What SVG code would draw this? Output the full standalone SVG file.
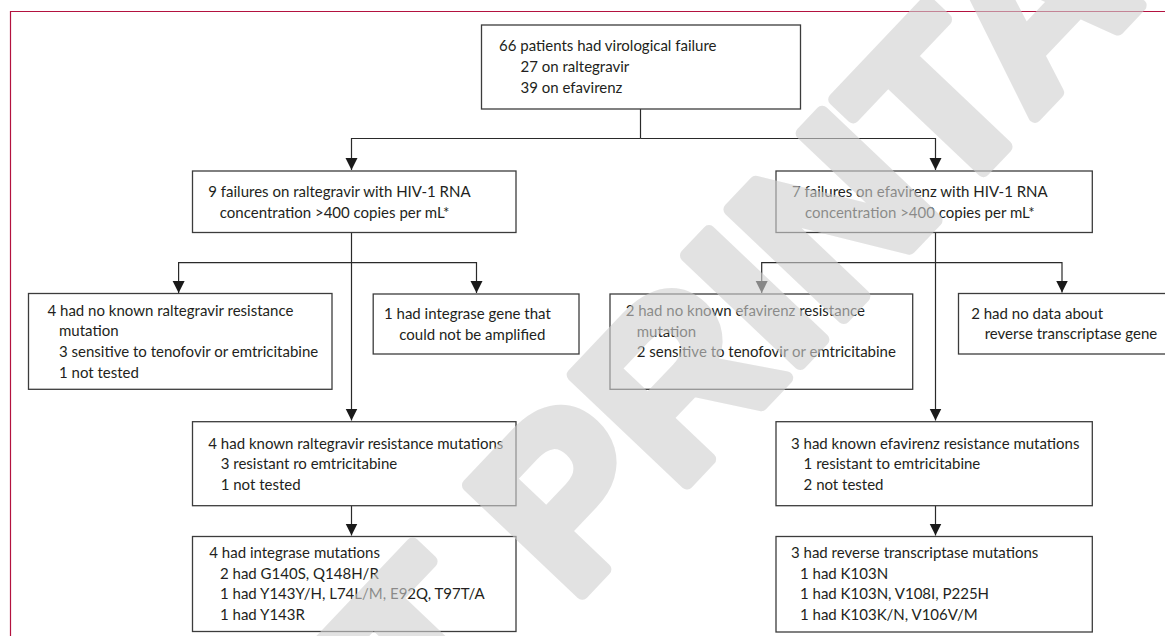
<svg xmlns="http://www.w3.org/2000/svg" width="1165" height="636" viewBox="0 0 1165 636">
<defs>
<style>
.box{fill:#ffffff;stroke:#3c3c3c;stroke-width:1.3}
.t{font-family:Lato,"Liberation Sans",sans-serif;font-size:15px;fill:#231f20}
.c{fill:none;stroke:#2a2a2a;stroke-width:1.2}
.a{marker-end:url(#ah)}
.wm{font-family:"Liberation Sans",Arial,sans-serif;font-weight:bold;font-size:228px;fill:#d0d0d0;stroke:#d0d0d0;stroke-width:13;stroke-linejoin:round}
</style>
<marker id="ah" markerUnits="userSpaceOnUse" markerWidth="13" markerHeight="13" refX="12" refY="6" orient="auto">
<path d="M0,0 L12,6 L0,12 z" fill="#1a1a1a"/>
</marker>
</defs>
<rect width="1165" height="636" fill="#ffffff"/>
<path d="M10.5,636 V11.5 H1165" fill="none" stroke="#b3123f" stroke-width="1.2"/>

<g id="connectors">
<path class="c" d="M640.5,109 V138.5"/>
<path class="c a" d="M640.5,138.5 H351.5 V170"/>
<path class="c a" d="M640.5,138.5 H935.5 V170"/>
<path class="c a" d="M351.5,232.5 V420.5"/>
<path class="c a" d="M351.5,262.7 H178.6 V293"/>
<path class="c a" d="M351.5,262.7 H476.5 V293"/>
<path class="c a" d="M935.5,232.5 V420.5"/>
<path class="c a" d="M935.5,262.7 H761.7 V293"/>
<path class="c a" d="M935.5,262.7 H1062 V292.5"/>
<path class="c a" d="M351.5,505.7 V535.5"/>
<path class="c a" d="M935.5,505.7 V535.5"/>
</g>

<g id="n_total">
<rect class="box" x="481.5" y="25" width="319" height="84"/>
<text class="t" x="499" y="50.5">66 patients had virological failure</text>
<text class="t" x="520.5" y="72">27 on raltegravir</text>
<text class="t" x="520.5" y="93">39 on efavirenz</text>
</g>

<g id="n_ral">
<rect class="box" x="192.5" y="171" width="323.5" height="61.5"/>
<text class="t" x="208.3" y="196.5">9 failures on raltegravir with HIV-1 RNA</text>
<text class="t" x="219.8" y="217.5">concentration &gt;400 copies per mL*</text>
</g>

<g id="n_efv">
<rect class="box" x="776" y="171" width="316.3" height="61.5"/>
<text class="t" x="792" y="196.5">7 failures on efavirenz with HIV-1 RNA</text>
<text class="t" x="805" y="217.5">concentration &gt;400 copies per mL*</text>
</g>

<g id="n_ral_nores">
<rect class="box" x="28.5" y="293.5" width="303.5" height="95.8"/>
<text class="t" x="47.5" y="315.5">4 had no known raltegravir resistance</text>
<text class="t" x="59" y="336.2">mutation</text>
<text class="t" x="59" y="357">3 sensitive to tenofovir or emtricitabine</text>
<text class="t" x="59" y="377.6">1 not tested</text>
</g>

<g id="n_ral_noamp">
<rect class="box" x="373.2" y="294" width="205.8" height="60"/>
<text class="t" x="384" y="319">1 had integrase gene that</text>
<text class="t" x="399.3" y="339.5">could not be amplified</text>
</g>

<g id="n_efv_nores">
<rect class="box" x="610" y="294" width="302.7" height="95.3"/>
<text class="t" x="625.7" y="316">2 had no known efavirenz resistance</text>
<text class="t" x="636.7" y="336.7">mutation</text>
<text class="t" x="636.7" y="357.3">2 sensitive to tenofovir or emtricitabine</text>
</g>

<g id="n_efv_nodata">
<rect class="box" x="958.5" y="293.5" width="212" height="60.5"/>
<text class="t" x="971.2" y="318.5">2 had no data about</text>
<text class="t" x="984.7" y="339">reverse transcriptase gene</text>
</g>

<g id="n_ral_res">
<rect class="box" x="192.5" y="421.7" width="323.5" height="84"/>
<text class="t" x="208.3" y="448.5">4 had known raltegravir resistance mutations</text>
<text class="t" x="220.7" y="469">3 resistant ro emtricitabine</text>
<text class="t" x="220.7" y="489.5">1 not tested</text>
</g>

<g id="n_efv_res">
<rect class="box" x="776" y="421.7" width="316.3" height="84"/>
<text class="t" x="791" y="448.5">3 had known efavirenz resistance mutations</text>
<text class="t" x="803.6" y="469">1 resistant to emtricitabine</text>
<text class="t" x="803.6" y="489.5">2 not tested</text>
</g>

<g id="n_ral_mut">
<rect class="box" x="192.5" y="536.5" width="323.5" height="95"/>
<text class="t" x="209.3" y="558.3">4 had integrase mutations</text>
<text class="t" x="220" y="579">2 had G140S,  Q148H/R</text>
<text class="t" x="220" y="599.3">1 had Y143Y/H, L74L/M, E92Q, T97T/A</text>
<text class="t" x="220" y="620">1 had Y143R</text>
</g>

<g id="n_efv_mut">
<rect class="box" x="776" y="536.5" width="316.3" height="95.5"/>
<text class="t" x="791" y="558.3">3 had reverse transcriptase mutations</text>
<text class="t" x="800" y="579">1 had K103N</text>
<text class="t" x="800" y="599.3">1 had K103N, V108I, P225H</text>
<text class="t" x="800" y="620">1 had K103K/N, V106V/M</text>
</g>

<g id="watermark" opacity="0.6">
<text class="wm" x="572" y="604" transform="rotate(-46.5 572 604)" xml:space="preserve"><tspan x="369">T </tspan>PRINTA</text>
</g>
</svg>
